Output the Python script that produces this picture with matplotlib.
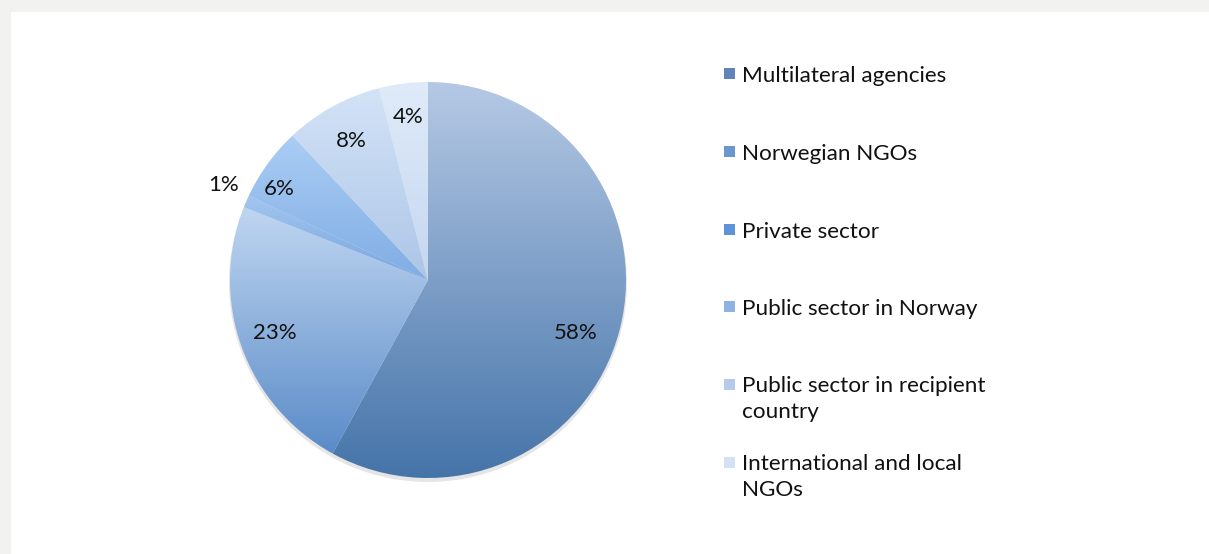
import numpy as np
import matplotlib
matplotlib.use('Agg')
import matplotlib.pyplot as plt
from matplotlib.colors import to_rgb
from matplotlib.patches import Rectangle, Circle

# ============================================================
# DATA
# ============================================================
categories = [
    'Multilateral agencies',
    'Norwegian NGOs',
    'Private sector',
    'Public sector in Norway',
    'Public sector in recipient\ncountry',
    'International and local\nNGOs',
]
shares = [58, 23, 1, 6, 8, 4]

# gradient top -> bottom for every slice
top_colors = ['#b5c9e5', '#c0d6f1', '#a3c6f0', '#aacdf4', '#d3e3f7', '#e0ebf9']
bottom_colors = ['#4574a9', '#5a8bc8', '#76a6e0', '#80ade4', '#adc6e7', '#c4d7f0']
legend_colors = ['#5f86b6', '#6b97cf', '#5f93d8', '#8db2e3', '#b4cbe9', '#d3e1f3']

# label placement (fraction of radius, angle nudge in degrees)
label_dist = [0.79, 0.82, 1.14, 0.88, 0.80, 0.83]
label_nudge = [-5.4, -0.8, -1.4, 4.6, 0.2, -0.2]

plt.rcParams['font.family'] = ['Lato', 'DejaVu Sans']

# ============================================================
# FIGURE
# ============================================================
W, H = 1209, 554
fig = plt.figure(figsize=(W / 100, H / 100), dpi=100)
fig.patch.set_facecolor('#f2f2f0')
fig.patches.append(Rectangle((11 / W, 0), 1, 1 - 12 / H,
                             transform=fig.transFigure,
                             facecolor='white', edgecolor='none', zorder=-10))

R_PX = 198
cx, cy = 428, H - 280
side = 2.6 * R_PX
ax = fig.add_axes([(cx - side / 2) / W, (cy - side / 2) / H, side / W, side / H])
ax.set_facecolor('none')
ax.set_zorder(5)

wedges, _ = ax.pie(
    shares,
    startangle=90,
    counterclock=False,
    radius=1,
    wedgeprops=dict(linewidth=0),
)

# soft shadow under the pie
ax.add_patch(Circle((0.0, -0.015), 1.005, facecolor='#999999',
                    alpha=0.25, edgecolor='none', zorder=0))

# ============================================================
# GRADIENT FILLS
# ============================================================
for w, c_top, c_bot in zip(wedges, top_colors, bottom_colors):
    ext = w.get_path().get_extents()
    t = np.linspace(0, 1, 256)[:, None, None]
    grad = (1 - t) * np.array(to_rgb(c_top)) + t * np.array(to_rgb(c_bot))
    im = ax.imshow(grad, extent=[ext.x0, ext.x1, ext.y0, ext.y1],
                   origin='upper', aspect='auto', zorder=2,
                   interpolation='bilinear')
    im.set_clip_path(w)
    w.set_facecolor('none')
    w.set_zorder(3)

# ============================================================
# PERCENT LABELS
# ============================================================
for w, val, d, nud in zip(wedges, shares, label_dist, label_nudge):
    ang = np.deg2rad((w.theta1 + w.theta2) / 2 + nud)
    ax.text(d * np.cos(ang), d * np.sin(ang), f'{val}%',
            ha='center', va='center', fontsize=16, color='#111111',
            zorder=5)

ax.set_xlim(-1.3, 1.3)
ax.set_ylim(-1.3, 1.3)
ax.set_aspect('equal')
ax.axis('off')

# ============================================================
# LEGEND (manual, Excel style)
# ============================================================
leg_y = [73, 151, 229, 306, 384, 462]
for y, lab, col in zip(leg_y, categories, legend_colors):
    fig.patches.append(Rectangle((724 / W, 1 - (y + 5.5) / H), 11 / W, 11 / H,
                                 transform=fig.transFigure,
                                 facecolor=col, edgecolor='none'))
    n_extra = lab.count('\n')
    fig.text(742 / W, 1 - (y + 9 + 25 * n_extra) / H, lab,
             ha='left', va='baseline',
             fontsize=16.2, color='#111111', linespacing=1.35)

plt.savefig('out.png', dpi=100)
